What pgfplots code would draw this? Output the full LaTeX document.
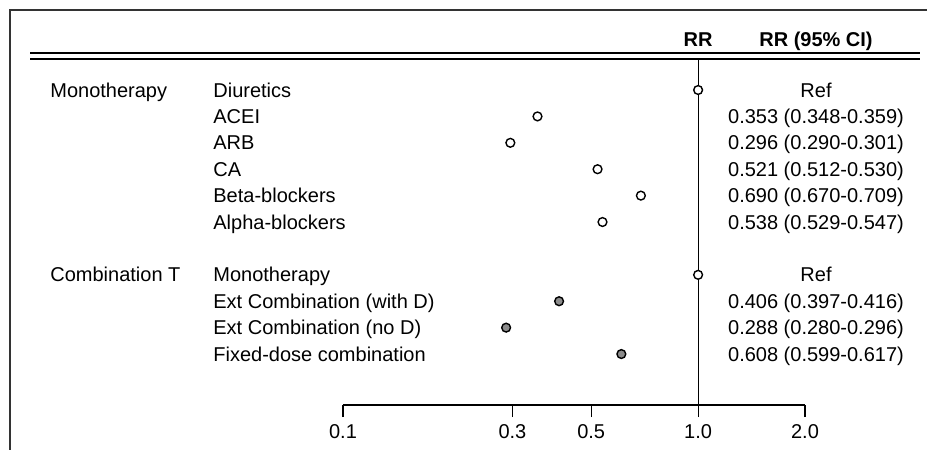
\documentclass[border=0pt]{standalone}
\usepackage{fontspec}
\setmainfont{Liberation Sans}
\usepackage{pgfplots}
\usepackage{pgfplotstable}
\pgfplotsset{compat=1.18}

% row (negative, top = -1), relative risk, 95% CI
\pgfplotstableread{
row rr lo hi
-2 0.353 0.348 0.359
-3 0.296 0.290 0.301
-4 0.521 0.512 0.530
-5 0.690 0.670 0.709
-6 0.538 0.529 0.547
}\mono
\pgfplotstableread{
row rr lo hi
-9 0.406 0.397 0.416
-10 0.288 0.280 0.296
-11 0.608 0.599 0.617
}\combo
\pgfplotstableread{
row rr
-1 1
-8 1
}\refs

\begin{document}
\begin{tikzpicture}
\begin{axis}[
    at={(171.5pt,-202.5pt)}, anchor=south west,
    scale only axis, width=231pt, height=173pt,
    xmode=log, xmin=0.1, xmax=2,
    ymin=-12.93, ymax=0.174,
    axis x line*=bottom, axis y line=none,
    xtick={0.1,0.3,0.5,1,2},
    xticklabels={0.1,0.3,0.5,1.0,2.0},
    xminorticks=false,
    xtick align=outside,
    major tick length=6pt,
    x axis line style={line width=0.6pt},
    every tick/.style={black, line width=0.6pt},
    tick label style={font=\normalsize},
    clip=false,
    error bars/error bar style={line width=0.8pt},
  ]
\addplot[black, line width=0.6pt] coordinates {(1,-12.93) (1,0.174)};
\addplot[only marks, mark=*, mark size=2.2pt,
    mark options={fill=white, draw=black, line width=0.7pt},
    error bars/.cd, x dir=both, x explicit, error mark=none]
  table[x=rr, y=row,
    x error plus expr={\thisrow{hi}-\thisrow{rr}},
    x error minus expr={\thisrow{rr}-\thisrow{lo}}] {\mono};
\addplot[only marks, mark=*, mark size=2.2pt,
    mark options={fill=black!45, draw=black, line width=0.7pt},
    error bars/.cd, x dir=both, x explicit, error mark=none]
  table[x=rr, y=row,
    x error plus expr={\thisrow{hi}-\thisrow{rr}},
    x error minus expr={\thisrow{rr}-\thisrow{lo}}] {\combo};
\addplot[only marks, mark=*, mark size=2.2pt,
    mark options={fill=white, draw=black, line width=0.7pt}]
  table[x=rr, y=row] {\refs};
\end{axis}

% labels and frame, in pixel units of the reference
\begin{scope}[x=0.5pt, y=-0.5pt, every node/.style={inner sep=0pt}]
\path[use as bounding box] (0,0) rectangle (927,450);
\draw[line width=1pt, black!80] (10,450) -- (10,10) -- (927,10);
\draw[line width=0.6pt] (30,53) -- (920,53) (30,59) -- (920,59);
\node[font=\bfseries, anchor=base] at (698,46) {RR};
\node[font=\bfseries, anchor=base] at (816,46) {RR (95\% CI)};

\node[anchor=base west] at (50,97) {Monotherapy};
\node[anchor=base west] at (50,281.8) {Combination T};

\node[anchor=base west] at (213,97) {Diuretics};
\node[anchor=base west] at (213,123.4) {ACEI};
\node[anchor=base west] at (213,149.8) {ARB};
\node[anchor=base west] at (213,176.2) {CA};
\node[anchor=base west] at (213,202.6) {Beta-blockers};
\node[anchor=base west] at (213,229) {Alpha-blockers};
\node[anchor=base west] at (213,281.8) {Monotherapy};
\node[anchor=base west] at (213,308.2) {Ext Combination (with D)};
\node[anchor=base west] at (213,334.6) {Ext Combination (no D)};
\node[anchor=base west] at (213,361) {Fixed-dose combination};

\node[anchor=base] at (816,97) {Ref};
\node[anchor=base] at (816,123.4) {0.353 (0.348-0.359)};
\node[anchor=base] at (816,149.8) {0.296 (0.290-0.301)};
\node[anchor=base] at (816,176.2) {0.521 (0.512-0.530)};
\node[anchor=base] at (816,202.6) {0.690 (0.670-0.709)};
\node[anchor=base] at (816,229) {0.538 (0.529-0.547)};
\node[anchor=base] at (816,281.8) {Ref};
\node[anchor=base] at (816,308.2) {0.406 (0.397-0.416)};
\node[anchor=base] at (816,334.6) {0.288 (0.280-0.296)};
\node[anchor=base] at (816,361) {0.608 (0.599-0.617)};
\end{scope}
\end{tikzpicture}
\end{document}
